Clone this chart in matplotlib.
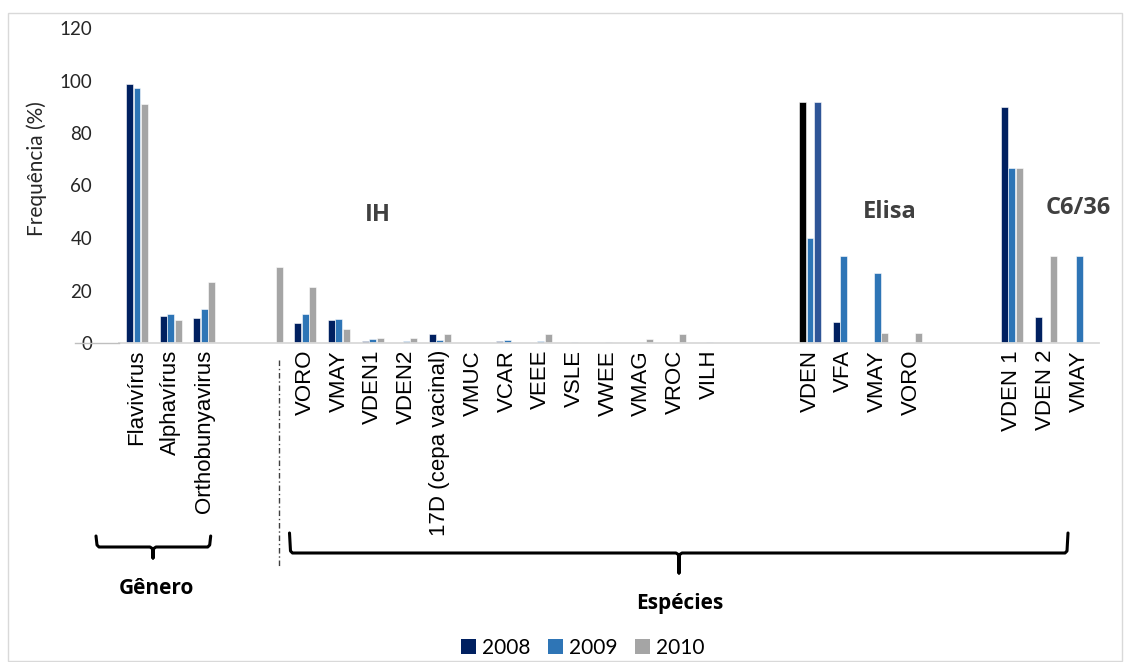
import matplotlib
matplotlib.use('Agg')
import matplotlib.pyplot as plt
from matplotlib.patches import Rectangle, Patch
from matplotlib.lines import Line2D
import numpy as np

# ── dados ─────────────────────────────────────────────────────
categories = ['Flavivírus', 'Alphavírus', 'Orthobunyavirus', '', '',
              'VORO', 'VMAY', 'VDEN1', 'VDEN2', '17D (cepa vacinal)',
              'VMUC', 'VCAR', 'VEEE', 'VSLE', 'VWEE', 'VMAG', 'VROC', 'VILH',
              '', '',
              'VDEN', 'VFA', 'VMAY', 'VORO',
              '', '',
              'VDEN 1', 'VDEN 2', 'VMAY']

v2008 = [98.7, 10.2, 9.6, 0, 0,
         7.5, 8.6, 0.8, 0, 3.3, 0, 0.8, 0, 0, 0, 0, 0, 0,
         0, 0,
         91.8, 8.1, 0, 0,
         0, 0,
         89.9, 9.8, 0]
v2009 = [97.0, 10.9, 12.8, 0, 0,
         10.9, 9.1, 1.5, 0.8, 1.1, 0, 1.0, 0.8, 0.4, 0.3, 0, 0, 0.3,
         0, 0,
         39.9, 33.3, 26.5, 0,
         0, 0,
         66.5, 0, 33.1]
v2010 = [91.0, 8.8, 23.1, 0, 29.1,
         21.2, 5.3, 1.8, 1.8, 3.4, 0, 0, 3.4, 0, 0, 1.7, 3.4, 0,
         0, 0,
         91.8, 0, 3.9, 3.9,
         0, 0,
         66.5, 33.1, 0]

years = ['2008', '2009', '2010']
colors = ['#002060', '#2E75B6', '#A5A5A5']
groups = [('IH', 7.16, 48.8), ('Elisa', 22.38, 49.9), ('C6/36', 27.96, 51.4)]

W, H = 1132, 662
def fx(x):
    return x / W
def fy(y):
    return 1 - y / H

fig = plt.figure(figsize=(W / 100, H / 100), dpi=100)
fig.patches.append(Rectangle((fx(8), fy(661)), fx(1122) - fx(8), fy(13) - fy(661),
                             transform=fig.transFigure, fill=False,
                             edgecolor='#D9D9D9', linewidth=1.0))

ax = fig.add_axes([fx(118.5), fy(343), fx(1099.4) - fx(118.5), fy(28) - fy(343)])

x = np.arange(len(categories))
bw = 0.205
off = 0.223
b08 = ax.bar(x - off, v2008, bw, color=colors[0], edgecolor='white', linewidth=0.4)
b09 = ax.bar(x, v2009, bw, color=colors[1], edgecolor='white', linewidth=0.4)
b10 = ax.bar(x + off, v2010, bw, color=colors[2], edgecolor='white', linewidth=0.4)
# cores diferentes usadas no grupo VDEN (Elisa)
b08[20].set_facecolor('#000000')
b10[20].set_facecolor('#2F5597')

ax.set_xlim(-0.55, 28.6)
ax.set_ylim(0, 120)
ax.set_yticks(range(0, 121, 20))
ax.tick_params(axis='y', length=0, pad=19, labelsize=13.5, colors='#262626')
for t in ax.get_yticklabels():
    t.set_family('Lato')
ax.set_xticks(x)
ax.set_xticklabels(categories, rotation=90, fontsize=16, family='Liberation Sans',
                   va='top', ha='center')
ax.tick_params(axis='x', length=0, pad=5)
for s in ['left', 'right', 'top']:
    ax.spines[s].set_visible(False)
ax.spines['bottom'].set_color('#D9D9D9')
ax.spines['bottom'].set_linewidth(1.3)

for name, gx, gy in groups:
    ax.text(gx, gy, name, fontsize=17, fontweight='bold', family='Open Sans',
            color='#404040', ha='center', va='center')

fig.text(fx(37), fy(169), 'Frequência (%)', rotation=90, fontsize=15, family='Lato',
         ha='center', va='center', color='#262626')

# linha extra sobre o zero
fig.add_artist(Line2D([fx(75), fx(118.5)], [fy(343), fy(343)], color='#BFBFBF',
                      linewidth=1.0, transform=fig.transFigure))

# ── chaves ───────────────────────────────────────────────────
def brace(x0, x1, xc, ytop, yline, ytip):
    xs = [x0, x0 + 1, x0 + 3, xc - 3, xc, xc, xc, xc + 3, x1 - 3, x1 - 1, x1]
    ys = [ytop, yline - 2, yline, yline, yline + 2, ytip, yline + 2, yline, yline, yline - 2, ytop]
    fig.add_artist(Line2D([fx(v) for v in xs], [fy(v) for v in ys], color='black',
                          linewidth=2.2, transform=fig.transFigure,
                          solid_joinstyle='round', solid_capstyle='round'))

brace(96, 210.7, 153, 536, 547, 558)
brace(289.5, 1068, 679, 533, 553, 573)
fig.text(fx(156), fy(589), 'Gênero', fontsize=15, fontweight='bold', family='Open Sans',
         ha='center', va='center', color='black')
fig.text(fx(680), fy(603), 'Espécies', fontsize=15, fontweight='bold', family='Open Sans',
         ha='center', va='center', color='black')

fig.add_artist(Line2D([fx(279), fx(279)], [fy(360), fy(566)], color='#404040',
                      linewidth=1.0, linestyle=(0, (4, 2, 1, 2)), transform=fig.transFigure))

handles = [Patch(facecolor=c) for c in colors]
fig.legend(handles, years, loc='center', bbox_to_anchor=(fx(583), fy(648)), ncol=3,
           frameon=False, handlelength=0.7, handleheight=0.7, handletextpad=0.3,
           columnspacing=0.85, prop={'family': 'Lato', 'size': 15})

fig.savefig('out.png', dpi=100)
